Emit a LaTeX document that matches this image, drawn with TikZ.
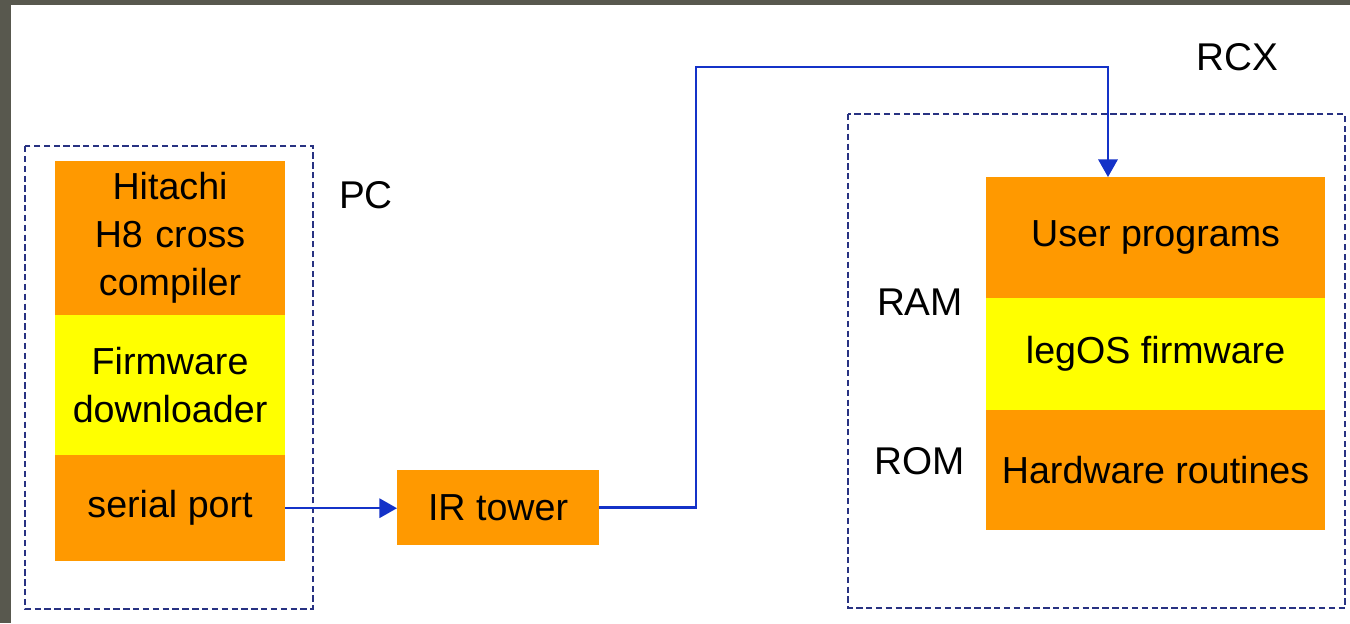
\documentclass[tikz,border=0pt]{standalone}
\usepackage{fontspec}
\setmainfont{Liberation Sans}
\usetikzlibrary{arrows.meta,positioning}

\definecolor{slate}{RGB}{88,88,78}
\definecolor{boxorange}{RGB}{255,153,0}
\definecolor{boxyellow}{RGB}{255,255,0}
\definecolor{frameblue}{RGB}{40,50,130}
\definecolor{linkblue}{RGB}{20,50,200}

\tikzset{
  layer/.style={fill=boxorange,inner sep=0pt,outer sep=0pt,align=center,
    font=\fontsize{10.7}{13.6}\selectfont},
  softlayer/.style={layer,fill=boxyellow},
  frame/.style={draw=frameblue,line width=0.5pt,dash pattern=on 1.8pt off 1pt},
  link/.style={draw=linkblue,line width=0.6pt,-{Triangle[length=5pt,width=5.5pt]}},
  tag/.style={font=\fontsize{11}{13}\selectfont}
}

\begin{document}
\begin{tikzpicture}[x=0.01cm,y=-0.01cm,node distance=0pt]
\useasboundingbox (0,0) rectangle (1350,623);
% backdrop
\fill[slate] (0,0) rectangle (1350,623);
\fill[white] (11,5) rectangle (1350,623);

% PC side
\draw[frame] (25,146) rectangle (313,609);
\node[tag] (pc) at (366,195) {PC};
\node[layer,minimum width=2.3cm,minimum height=1.54cm,text width=2.3cm,anchor=north west]
  (hitachi) at (55,161) {Hitachi\\H8 cross\\compiler};
\node[softlayer,minimum width=2.3cm,minimum height=1.4cm,text width=2.3cm,below=of hitachi]
  (loader) {Firmware\\downloader};
\node[layer,minimum width=2.3cm,minimum height=1.06cm,below=of loader] (serial) {serial port};

\node[layer,minimum width=2.02cm,minimum height=0.75cm,anchor=north west] (ir) at (397,470) {IR tower};

% RCX side
\node[tag] (rcx) at (1237,57) {RCX};
\draw[frame] (848,114) rectangle (1345,608);
\node[layer,minimum width=3.39cm,minimum height=1.21cm,anchor=north west] (user) at (986,177) {User programs};
\node[softlayer,minimum width=3.39cm,minimum height=1.12cm,below=of user] (legos) {legOS firmware};
\node[layer,minimum width=3.39cm,minimum height=1.2cm,below=of legos] (hw) {Hardware routines};
\node[tag] (ram) at (920,302) {RAM};
\node[tag] (rom) at (920,461) {ROM};

% links
\coordinate (hop) at (696,67);
\coordinate (drop) at (1108,67);
\draw[link] (serial.east) -- (serial.east -| ir.west);
\draw[link] (ir.east) -| (hop) -- (drop) -- (drop |- user.north);
\end{tikzpicture}
\end{document}
